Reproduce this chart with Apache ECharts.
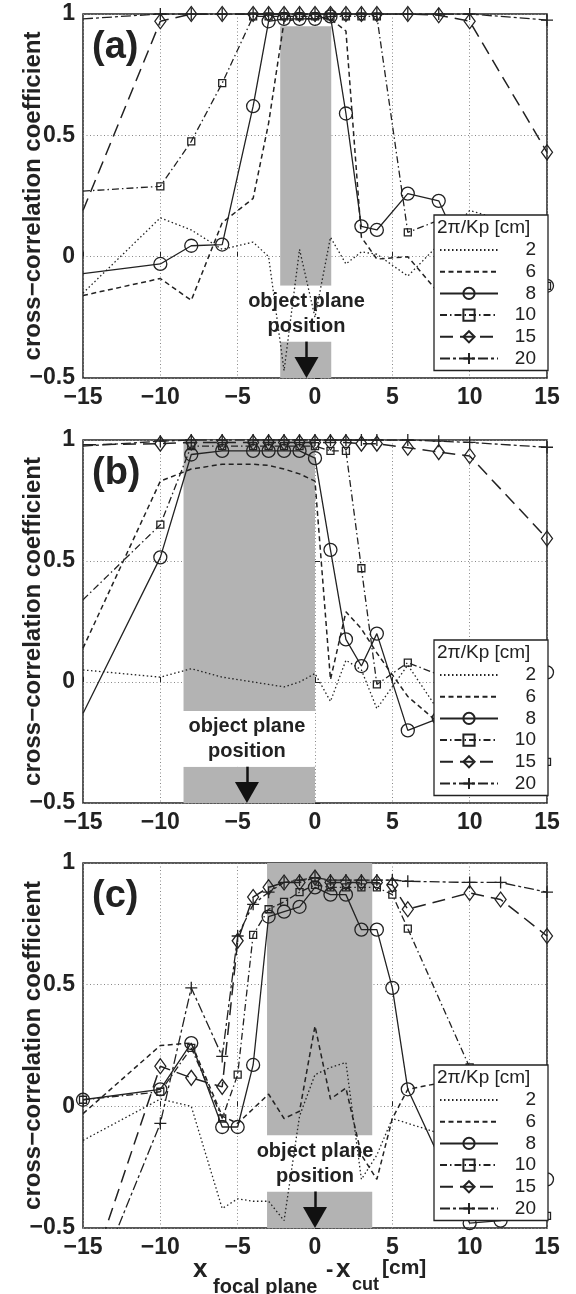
<!DOCTYPE html>
<html><head><meta charset="utf-8">
<script src="https://cdn.jsdelivr.net/npm/echarts@6/dist/echarts.min.js"></script>
<style>html,body{margin:0;padding:0;background:#fff}#c{width:576px;height:1294px}</style>
</head><body><div id="c"></div><script>
// ---------- data ----------
const seriesNames = ['2','6','8','10','15','20'];
const xTicks = [-15,-10,-5,0,5,10,15];
const yTicks = [-0.5,0,0.5,1];

const xA = [-15,-10,-8,-6,-4,-3,-2,-1,0,1,2,3,4,6,8,10,15];
const a2  = [-0.15,0.16,0.11,0.03,0.06,0.0,-0.47,0.03,-0.25,0.08,-0.03,0.02,0.01,-0.08,0.05,0.19,0.1];
const a6  = [-0.16,-0.09,-0.18,0.14,0.24,0.55,0.97,0.98,0.98,0.98,0.93,0.08,-0.01,0.0,-0.15,-0.2,-0.12];
const a8  = [-0.07,-0.03,0.045,0.05,0.62,0.97,0.98,0.98,0.98,0.99,0.59,0.125,0.11,0.26,0.23,-0.05,-0.12];
const a10 = [0.27,0.29,0.475,0.715,0.99,0.99,0.99,0.99,0.99,0.99,0.99,0.99,0.99,0.1,0.15,0.05,-0.12];
const a15 = [0.19,0.97,1.0,1.0,1.0,1.0,1.0,1.0,1.0,1.0,1.0,1.0,1.0,1.0,0.995,0.97,0.43];
const a20 = [0.98,1.0,1.0,1.0,1.0,1.0,1.0,1.0,1.0,1.0,1.0,1.0,1.0,1.0,1.0,1.0,0.975];

const xB = [-15,-10,-8,-6,-4,-3,-2,-1,0,1,2,3,4,6,8,10,15];
const b2  = [0.05,0.02,0.055,0.02,0.0,-0.01,-0.02,0.0,0.035,-0.08,0.09,0.05,-0.11,0.07,-0.12,-0.08,-0.05];
const b6  = [0.14,0.83,0.88,0.9,0.9,0.895,0.88,0.86,0.83,0.01,0.29,0.22,0.12,-0.06,-0.17,-0.15,-0.1];
const b8  = [-0.13,0.515,0.94,0.955,0.955,0.955,0.955,0.955,0.925,0.546,0.176,0.066,0.2,-0.2,-0.15,-0.1,0.04];
const b10 = [0.34,0.65,0.975,0.975,0.975,0.975,0.975,0.975,0.975,0.955,0.955,0.47,-0.01,0.08,0.03,-0.1,-0.33];
const b15 = [0.98,0.985,0.99,0.99,0.99,0.99,0.99,0.99,0.99,0.99,0.99,0.985,0.985,0.968,0.95,0.934,0.593];
const b20 = [0.975,0.995,1.0,1.0,1.0,1.0,1.0,1.0,1.0,1.0,1.0,1.0,1.0,1.0,0.995,0.99,0.97];

const xC = [-15,-10,-8,-6,-5,-4,-3,-2,-1,0,1,2,3,4,5,6,10,12,15];
const c2  = [-0.14,0.03,0.0,-0.42,-0.38,-0.39,-0.39,-0.47,-0.04,0.13,0.16,0.18,-0.3,-0.2,-0.05,-0.07,-0.15,-0.1,-0.12];
const c6  = [-0.03,0.25,0.26,-0.04,-0.07,-0.01,0.05,-0.05,-0.02,0.33,0.03,0.075,-0.2,-0.3,-0.05,0.07,0.12,0.1,-0.05];
const c8  = [0.027,0.07,0.26,-0.085,-0.085,0.17,0.78,0.80,0.82,0.90,0.87,0.87,0.726,0.726,0.487,0.07,-0.48,-0.47,-0.3];
const c10 = [0.027,0.06,0.24,-0.05,0.13,0.705,0.81,0.84,0.88,0.91,0.90,0.90,0.90,0.90,0.87,0.73,0.16,-0.1,-0.45];
const c15 = [-0.78,0.165,0.117,0.08,0.68,0.86,0.9,0.92,0.92,0.94,0.92,0.92,0.92,0.92,0.91,0.81,0.877,0.85,0.70];
const c20 = [-0.85,-0.07,0.487,0.205,0.70,0.83,0.88,0.92,0.93,0.94,0.93,0.93,0.93,0.93,0.93,0.925,0.92,0.92,0.88];

// object plane band [left, right], top of band, arrow position
const bandX = [[-2.25,1.05],[-8.5,0],[-3.1,3.7]];
const bandTop = [0.95,1,1];
const bandGap = [-0.35,-0.12];
const arrowX = [-0.55,-4.4,0];
const panelLabels = ['(a)','(b)','(c)'];
// panels whose first point (x = -15) is drawn without a marker
const hideFirstMarker = [true,true,false];

// ---------- layout / style ----------
const FONT = "'Liberation Sans', Arial, Helvetica, sans-serif";
const INK = '#222';
const gridTops = [14,440,863];
const gridHeights = [364,363,365];
const legendTops = [215,640,1065];
const xs = [xA,xB,xC];
const ys = [[a2,a6,a8,a10,a15,a20],[b2,b6,b8,b10,b15,b20],[c2,c6,c8,c10,c15,c20]];
const styles = {
  '2':  {type:[1.5,2.5], width:1.3, symbol:'none', size:0},
  '6':  {type:[5,3.5], width:1.5, symbol:'none', size:0},
  '8':  {type:'solid', width:1.3, symbol:'circle', size:13},
  '10': {type:[7,3,1.5,3], width:1.3, symbol:'rect', size:7},
  '15': {type:[13,7], width:1.5, symbol:'diamond', size:[11,15]},
  '20': {type:[10,3,3,3], width:1.3, symbol:'path://M0,5L10,5M5,0L5,10', size:12}
};
const minus = v => String(v).replace('-', '\u2212');

const grid=[], xAxis=[], yAxis=[], series=[], legend=[], title=[];
for (let i=0;i<3;i++){
  grid.push({left:83, top:gridTops[i], width:464, height:gridHeights[i], show:true,
    borderColor:INK, borderWidth:1.5, backgroundColor:'#fff'});
  xAxis.push({type:'value', gridIndex:i, min:xTicks[0], max:xTicks[xTicks.length-1], interval:5,
    axisLine:{show:false}, axisTick:{inside:true, length:5, lineStyle:{color:INK}},
    axisLabel:{formatter:minus, fontSize:23, fontWeight:'bold', fontFamily:FONT, color:INK, margin:8},
    splitLine:{show:true, lineStyle:{color:'#888', type:[1,2.5], width:1}}});
  yAxis.push({type:'value', gridIndex:i, min:yTicks[0], max:yTicks[yTicks.length-1], interval:0.5,
    axisLine:{show:false}, axisTick:{inside:true, length:5, lineStyle:{color:INK}},
    axisLabel:{formatter:minus, fontSize:23, fontWeight:'bold', fontFamily:FONT, color:INK, margin:8},
    splitLine:{show:true, lineStyle:{color:'#888', type:[1,2.5], width:1}},
    name:'cross\u2212correlation coefficient', nameLocation:'middle', nameGap:38, nameMoveOverlap:false,
    nameTextStyle:{fontSize:24, fontWeight:'bold', fontFamily:FONT, color:INK}});
  // grey band (below lines)
  series.push({type:'line', xAxisIndex:i, yAxisIndex:i, data:[], silent:true,
    markArea:{silent:true, itemStyle:{color:'#b3b3b3'}, label:{show:false},
      data:[[{xAxis:bandX[i][0], yAxis:bandGap[1]},{xAxis:bandX[i][1], yAxis:bandTop[i]}],
            [{xAxis:bandX[i][0], yAxis:yTicks[0]},{xAxis:bandX[i][1], yAxis:bandGap[0]}]]}});
  seriesNames.forEach((n,k)=>{
    const s = styles[n];
    const hasSym = s.symbol!=='none';
    series.push({type:'line', name:n, xAxisIndex:i, yAxisIndex:i,
      data: xs[i].map((x,j)=> (j===0 && hideFirstMarker[i])
              ? {value:[x, ys[i][k][j]], symbol:'none'} : [x, ys[i][k][j]]),
      symbol:hasSym ? s.symbol : 'circle', symbolSize:s.size, showSymbol:hasSym,
      lineStyle:{color:INK, width:s.width, type:s.type},
      itemStyle: hasSym ? {color:'rgba(0,0,0,0)', borderColor:INK, borderWidth:1.3}
                        : {color:'rgba(0,0,0,0)', borderColor:'rgba(0,0,0,0)', borderWidth:0},
      emphasis:{disabled:true}, clip:true});
  });
  // white label box, text and arrow (above lines)
  const pxPerUnit = gridHeights[i]/1.5;
  series.push({type:'line', xAxisIndex:i, yAxisIndex:i, data:[], silent:true,
    markArea:{silent:true, z:3, itemStyle:{color:'#fff'},
      label:{show:true, position:'inside', formatter:'object plane\nposition', fontSize:20, fontWeight:'bold',
        fontFamily:FONT, color:INK, lineHeight:25},
      data:[[{xAxis:arrowX[i]-4.3, yAxis:bandGap[0]},{xAxis:arrowX[i]+4.3, yAxis:bandGap[1]}]]},
    markLine:{silent:true, symbol:['none','none'], label:{show:false},
      lineStyle:{color:'#111', width:2.5, type:'solid'},
      data:[[{coord:[arrowX[i], bandGap[0]]},{coord:[arrowX[i], yTicks[0]+18/pxPerUnit]}]]},
    markPoint:{silent:true, symbol:'triangle', symbolRotate:180, symbolSize:[24,21],
      itemStyle:{color:'#111'}, label:{show:false},
      data:[{coord:[arrowX[i], yTicks[0]+10.5/pxPerUnit]}]}});
  legend.push({data:seriesNames, orient:'vertical', left:434, top:legendTops[i],
    padding:[25,12,2,5], itemWidth:58, itemHeight:14, itemGap:1.7, selectedMode:false,
    backgroundColor:'#fff', borderColor:INK, borderWidth:1.3,
    formatter: n => '{r|'+n+'}',
    textStyle:{fontSize:19, fontFamily:FONT, color:INK, lineHeight:20,
      rich:{r:{width:33, align:'right', fontSize:19, fontFamily:FONT, color:INK, lineHeight:20}}}});
  title.push({text:'2\u03c0/Kp [cm]', left:437, top:legendTops[i]+3, padding:0,
    textStyle:{fontSize:19, fontWeight:'normal', fontFamily:FONT, color:INK}});
  title.push({text:panelLabels[i], left:92, top:gridTops[i]+15, padding:0,
    textStyle:{fontSize:38, fontWeight:'bold', fontFamily:FONT, color:INK}});
}

const graphic = [
  {type:'text', x:193, y:1270, style:{text:'x', font:'bold 26px '+FONT, fill:INK, verticalAlign:'middle'}},
  {type:'text', x:213, y:1287, style:{text:'focal plane', font:'bold 20px '+FONT, fill:INK, verticalAlign:'middle'}},
  {type:'text', x:326, y:1270, style:{text:'-', font:'bold 22px '+FONT, fill:INK, verticalAlign:'middle'}},
  {type:'text', x:336, y:1270, style:{text:'x', font:'bold 26px '+FONT, fill:INK, verticalAlign:'middle'}},
  {type:'text', x:352, y:1285, style:{text:'cut', font:'bold 18px '+FONT, fill:INK, verticalAlign:'middle'}},
  {type:'text', x:382, y:1268, style:{text:'[cm]', font:'bold 21px '+FONT, fill:INK, verticalAlign:'middle'}}
];

const chart = echarts.init(document.getElementById('c'), null, {renderer:'canvas'});
chart.setOption({animation:false, backgroundColor:'#fff', grid, xAxis, yAxis, series, legend, title, graphic});
</script></body></html>
